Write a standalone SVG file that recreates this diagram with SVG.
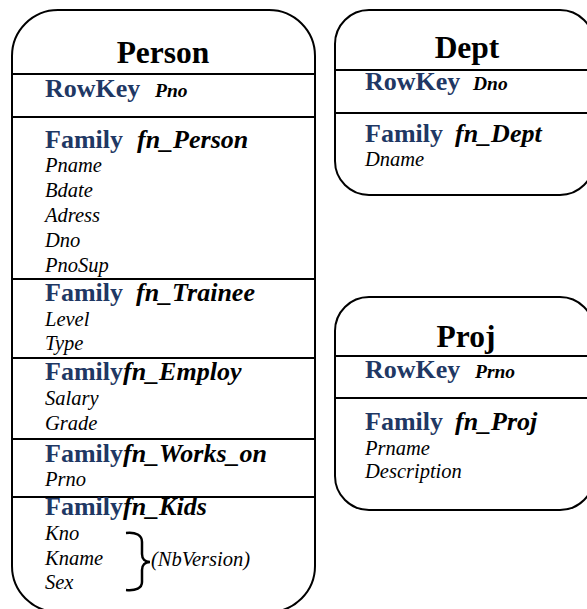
<svg xmlns="http://www.w3.org/2000/svg" width="587" height="609" viewBox="0 0 587 609">
<style>
.box{fill:#fff;stroke:#000;stroke-width:2}
.div{stroke:#000;stroke-width:2}
text{font-family:"Liberation Serif","Times New Roman",serif}
.title{font-size:31.5px;font-weight:bold;fill:#000;text-anchor:middle}
.kw{font-size:26px;font-weight:bold;fill:#1F3864}
.fn{font-size:26px;font-weight:bold;font-style:italic;fill:#000}
.key{font-size:19.5px;font-weight:bold;font-style:italic;fill:#000}
.attr{font-size:20.5px;font-style:italic;fill:#000}
.brace{fill:none;stroke:#000;stroke-width:2.5}
</style>
<rect width="587" height="609" fill="#fff"/>
<g id="connectors"></g>
<g id="person">
<rect class="box" x="12" y="10" width="303" height="602" rx="46" ry="46"/>
<line class="div" x1="12" y1="74" x2="315" y2="74"/>
<line class="div" x1="12" y1="117" x2="315" y2="117"/>
<line class="div" x1="12" y1="279" x2="315" y2="279"/>
<line class="div" x1="12" y1="358" x2="315" y2="358"/>
<line class="div" x1="12" y1="439" x2="315" y2="439"/>
<line class="div" x1="12" y1="497" x2="315" y2="497"/>
<text class="title" x="163" y="63">Person</text>
<text class="kw" x="45" y="97">RowKey</text>
<text class="key" x="155" y="97">Pno</text>
<text class="kw" x="45" y="148">Family</text>
<text class="fn" x="137" y="148">fn_Person</text>
<text class="attr" x="45" y="172">Pname</text>
<text class="attr" x="45" y="197">Bdate</text>
<text class="attr" x="45" y="222">Adress</text>
<text class="attr" x="45" y="247">Dno</text>
<text class="attr" x="45" y="272">PnoSup</text>
<text class="kw" x="45" y="301">Family</text>
<text class="fn" x="136" y="301">fn_Trainee</text>
<text class="attr" x="45" y="326">Level</text>
<text class="attr" x="45" y="350">Type</text>
<text x="45" y="380"><tspan class="kw">Family</tspan><tspan class="fn">fn_Employ</tspan></text>
<text class="attr" x="45" y="405">Salary</text>
<text class="attr" x="45" y="430">Grade</text>
<text x="45" y="462"><tspan class="kw">Family</tspan><tspan class="fn">fn_Works_on</tspan></text>
<text class="attr" x="45" y="486">Prno</text>
<text x="45" y="515"><tspan class="kw">Family</tspan><tspan class="fn">fn_Kids</tspan></text>
<text class="attr" x="45" y="540">Kno</text>
<text class="attr" x="45" y="565">Kname</text>
<text class="attr" x="45" y="589">Sex</text>
<path class="brace" d="M126,533 C136,532 142,535 142,542 L142,554 C142,559 145,562 150,562 C145,562 142,565 142,570 L142,582 C142,588 136,591 126,590"/>
<text class="attr" x="151" y="566">(NbVersion)</text>
</g>
<g id="dept">
<rect class="box" x="335" y="10" width="259" height="185" rx="34" ry="34"/>
<line class="div" x1="335" y1="70" x2="594" y2="70"/>
<line class="div" x1="335" y1="113" x2="594" y2="113"/>
<text class="title" x="467" y="58">Dept</text>
<text class="kw" x="365" y="90">RowKey</text>
<text class="key" x="473" y="90">Dno</text>
<text class="kw" x="365" y="142">Family</text>
<text class="fn" x="455" y="142">fn_Dept</text>
<text class="attr" x="365" y="166">Dname</text>
</g>
<g id="proj">
<rect class="box" x="335" y="297" width="259" height="213" rx="34" ry="34"/>
<line class="div" x1="335" y1="356" x2="594" y2="356"/>
<line class="div" x1="335" y1="398" x2="594" y2="398"/>
<text class="title" x="466" y="347">Proj</text>
<text class="kw" x="365" y="378">RowKey</text>
<text class="key" x="475" y="378">Prno</text>
<text class="kw" x="365" y="430">Family</text>
<text class="fn" x="455" y="430">fn_Proj</text>
<text class="attr" x="365" y="455">Prname</text>
<text class="attr" x="365" y="478">Description</text>
</g>
</svg>
